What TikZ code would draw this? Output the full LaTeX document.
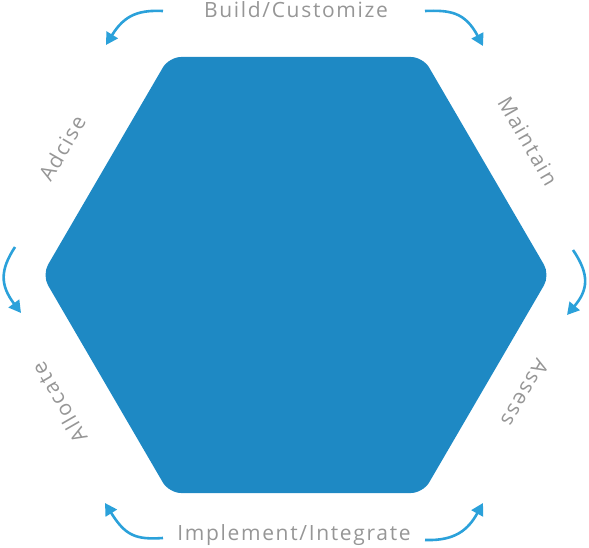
\documentclass[tikz,border=0pt]{standalone}
\usepackage{fontspec}
\newfontfamily\lblfont[LetterSpace=8]{Open Sans}
\usetikzlibrary{arrows.meta}
\definecolor{hexblue}{RGB}{30,137,196}
\definecolor{arrblue}{RGB}{43,161,218}
\definecolor{lblgray}{RGB}{150,150,150}
\tikzset{
  lbl/.style={font=\lblfont\fontsize{21}{21}\selectfont, text=lblgray, inner sep=0pt, anchor=center},
  cyc/.style={draw=arrblue, line width=2.6pt, -{Triangle[length=12pt,width=13pt]}}
}
\begin{document}
\begin{tikzpicture}[x=1pt,y=-1pt]
\useasboundingbox (0,0) rectangle (589,548);
% hexagon
\fill[hexblue, rounded corners=12pt]
  (169,57) -- (423,57) -- (550,275) -- (423,493) -- (169,493) -- (42,275) -- cycle;
% labels
\node[lbl] (build) at (296,10) {Build/Customize};
\node[lbl] (impl) at (294,535) {Implement/Integrate};
\node[lbl, rotate=60] (adv) at (62,148) {Adcise};
\node[lbl, rotate=-60] (maint) at (528,141) {Maintain};
\node[lbl, rotate=120] (alloc) at (59,403) {Allocate};
\node[lbl, rotate=-120] (assess) at (525,393) {Assess};
% arrow endpoints
\coordinate (a1s) at (163,11); \coordinate (a1e) at (106,45);
\coordinate (a2s) at (425,11); \coordinate (a2e) at (483,46);
\coordinate (a3s) at (15,247); \coordinate (a3e) at (21,313);
\coordinate (a4s) at (573,250); \coordinate (a4e) at (567,315);
\coordinate (a5s) at (163,538); \coordinate (a5e) at (105,503);
\coordinate (a6s) at (425,540); \coordinate (a6e) at (483,503);
% arrows
\draw[cyc] (a1s) .. controls (140,10) and (125,14) .. (a1e);
\draw[cyc] (a2s) .. controls (450,10) and (465,12) .. (a2e);
\draw[cyc] (a3s) .. controls (0,270) and (0,285) .. (a3e);
\draw[cyc] (a4s) .. controls (590,275) and (588,290) .. (a4e);
\draw[cyc] (a5s) .. controls (135,540) and (125,535) .. (a5e);
\draw[cyc] (a6s) .. controls (455,541) and (468,530) .. (a6e);
\end{tikzpicture}
\end{document}
